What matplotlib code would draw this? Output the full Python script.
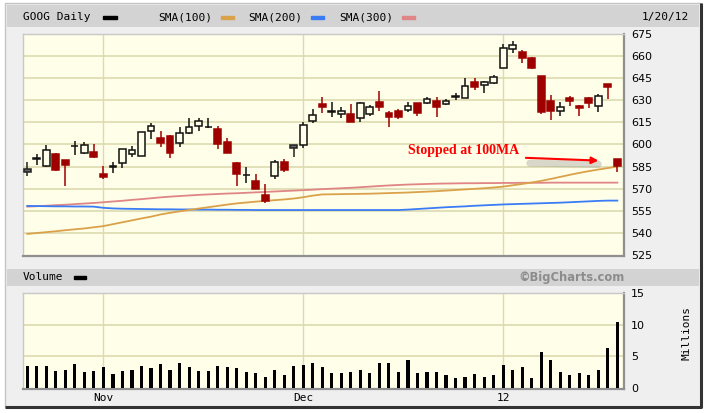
import matplotlib
matplotlib.use("Agg")
import matplotlib.pyplot as plt
from matplotlib.patches import Rectangle
import pandas as pd
import numpy as np

# GOOG daily, 10/20/11 - 1/20/12
holidays = ["2011-11-24", "2011-12-26", "2012-01-02", "2012-01-16"]
dates = pd.bdate_range("2011-10-20", "2012-01-20").drop(pd.to_datetime(holidays))

opens = [583.2, 590.3, 585.6, 593.4, 589.5, 599.0, 594.0, 594.7, 580.0, 584.8,
         587.2, 593.4, 592.5, 609.2, 604.2, 605.8, 600.8, 607.6, 612.6, 611.6,
         610.3, 601.9, 587.7, 579.2, 575.2, 565.7, 578.8, 587.9, 599.5, 599.8,
         616.2, 627.6, 622.2, 620.7, 620.5, 617.8, 620.7, 629.0, 621.6, 622.7,
         623.4, 628.0, 628.0, 629.5, 627.5, 632.4, 631.8, 642.6, 640.4, 641.5,
         652.1, 664.6, 662.6, 658.9, 646.7, 629.5, 622.7, 631.4, 626.3, 631.8,
         626.1, 640.9, 590.2]
highs = [588.3, 593.6, 599.6, 594.4, 589.8, 602.6, 601.5, 600.1, 585.6, 588.0,
         596.9, 599.0, 608.3, 614.4, 609.2, 606.5, 611.7, 618.2, 618.2, 617.8,
         612.6, 604.6, 588.0, 584.5, 579.8, 573.2, 589.5, 590.2, 599.5, 615.5,
         623.9, 632.5, 628.6, 625.4, 627.3, 628.7, 627.0, 636.5, 623.0, 624.0,
         628.6, 628.0, 632.2, 632.0, 630.7, 634.8, 645.0, 645.0, 643.3, 647.0,
         668.0, 670.5, 664.1, 659.2, 646.7, 633.6, 629.0, 633.0, 627.0, 632.0,
         634.0, 640.9, 590.2]
lows = [578.6, 586.0, 585.0, 582.0, 572.0, 592.8, 593.5, 591.0, 576.4, 580.5,
        583.8, 591.7, 592.0, 603.5, 598.5, 591.0, 598.1, 607.0, 609.4, 611.0,
        596.7, 594.0, 571.5, 574.1, 569.8, 560.3, 576.4, 581.5, 591.3, 597.8,
        614.8, 621.2, 618.9, 617.8, 615.0, 615.5, 619.3, 623.0, 612.1, 617.0,
        622.3, 619.5, 627.5, 618.9, 627.0, 630.2, 631.5, 637.0, 634.8, 641.0,
        651.7, 661.9, 655.1, 651.0, 621.0, 616.6, 619.5, 626.1, 619.5, 625.0,
        621.9, 630.9, 581.1]
closes = [581.5, 590.6, 596.1, 582.7, 586.1, 599.3, 599.9, 591.7, 577.7, 585.1,
          596.9, 596.1, 608.3, 612.8, 600.8, 594.5, 608.0, 612.1, 616.2, 611.8,
          600.4, 594.0, 580.2, 579.4, 569.8, 561.9, 588.3, 582.7, 597.4, 613.2,
          619.8, 625.3, 622.4, 623.0, 615.5, 628.0, 625.7, 625.3, 618.9, 618.9,
          626.1, 621.2, 630.7, 625.3, 629.5, 632.6, 640.0, 638.8, 642.6, 646.0,
          665.3, 667.5, 658.5, 651.7, 621.9, 622.7, 625.7, 629.5, 624.6, 628.4,
          632.9, 639.2, 585.4]
# filled candles that closed above the prior close (drawn gray, not red)
filled_up_days = [0, 28]

volume = [3.4, 3.4, 3.4, 2.7, 2.9, 3.8, 2.6, 2.7, 3.3, 2.2,
          2.7, 2.9, 3.4, 3.1, 3.8, 2.9, 4.0, 3.3, 2.7, 2.7,
          3.4, 3.3, 3.1, 2.6, 2.3, 1.8, 2.9, 2.0, 3.5, 3.7,
          4.0, 3.3, 2.3, 2.3, 2.6, 2.9, 2.3, 4.0, 4.0, 2.6,
          4.4, 2.3, 2.6, 2.6, 2.0, 1.6, 1.8, 2.2, 1.8, 2.0,
          3.6, 2.9, 3.3, 1.6, 5.7, 4.4, 2.6, 2.0, 2.3, 2.0,
          2.9, 6.3, 10.4]

sma100 = [539.3, 539.9, 540.5, 541.1, 541.8, 542.4, 543.0, 543.8, 544.6, 545.9,
          547.2, 548.5, 549.8, 551.0, 552.5, 553.6, 554.6, 555.6, 556.5, 557.4,
          558.3, 559.2, 560.0, 560.6, 561.2, 561.7, 562.2, 562.7, 563.3, 564.2,
          565.3, 566.1, 566.2, 566.3, 566.4, 566.5, 566.6, 566.8, 567.0, 567.2,
          567.4, 567.7, 568.0, 568.3, 568.7, 569.1, 569.5, 569.9, 570.3, 570.8,
          571.4, 572.3, 573.2, 574.2, 575.3, 576.6, 578.0, 579.4, 580.7, 581.9,
          583.0, 584.0, 585.0]
sma200 = [558.3, 558.2, 558.1, 558.0, 558.0, 557.9, 557.9, 557.8, 557.0, 556.6,
          556.4, 556.3, 556.2, 556.1, 556.0, 556.0, 555.9, 555.9, 555.8, 555.8,
          555.7, 555.7, 555.6, 555.6, 555.5, 555.5, 555.5, 555.5, 555.5, 555.5,
          555.5, 555.5, 555.5, 555.5, 555.5, 555.5, 555.5, 555.5, 555.5, 555.5,
          555.8, 556.2, 556.6, 557.0, 557.4, 557.7, 558.0, 558.4, 558.7, 559.0,
          559.3, 559.5, 559.7, 559.9, 560.1, 560.3, 560.5, 560.8, 561.1, 561.4,
          561.7, 561.9, 561.9]
sma300 = [557.8, 558.1, 558.4, 558.8, 559.1, 559.5, 559.9, 560.3, 560.8, 561.3,
          561.8, 562.4, 562.9, 563.5, 564.1, 564.6, 565.0, 565.4, 565.8, 566.1,
          566.4, 566.7, 566.9, 567.2, 567.5, 567.8, 568.1, 568.4, 568.7, 569.0,
          569.3, 569.7, 570.0, 570.3, 570.6, 571.0, 571.4, 571.8, 572.2, 572.5,
          572.8, 573.0, 573.2, 573.4, 573.5, 573.6, 573.7, 573.7, 573.8, 573.8,
          573.9, 573.9, 574.0, 574.0, 574.0, 574.1, 574.1, 574.1, 574.1, 574.1,
          574.1, 574.1, 574.1]

price_ticks = [675, 660, 645, 630, 615, 600, 585, 570, 555, 540, 525]
volume_ticks = [15, 10, 5, 0]

BG = "#fffee8"
GRID = "#dcdbb0"
RED = "#9e0000"
MONO = "DejaVu Sans Mono"

fig = plt.figure(figsize=(7.07, 4.13), dpi=100)
fig.patch.set_facecolor("white")

# frame drawn in pixel coordinates
bg = fig.add_axes([0, 0, 1, 1])
bg.set_xlim(0, 707)
bg.set_ylim(413, 0)
bg.axis("off")
bg.add_patch(Rectangle((5, 3), 696, 404, facecolor="#efefef", edgecolor="#c4c4c4", lw=1))
bg.plot([701, 701, 5], [3, 407, 407], color="#333333", lw=2.2, solid_capstyle="butt")
bg.add_patch(Rectangle((7, 5), 692, 22, facecolor="#d3d3d3", edgecolor="none"))
bg.add_patch(Rectangle((7, 269), 692, 17, facecolor="#d3d3d3", edgecolor="none"))

bg.text(23, 17, "GOOG Daily", family=MONO, fontsize=8, va="center")
bg.add_patch(Rectangle((103, 15.5), 14, 3.5, color="black"))
legend_items = [("SMA(100)", 158, "#d9a24a"), ("SMA(200)", 248, "#3a7cf5"), ("SMA(300)", 339, "#e08585")]
for label, x0, col in legend_items:
    bg.text(x0, 17, label, family=MONO, fontsize=8, va="center")
    bg.add_patch(Rectangle((x0 + 63, 15.5), 13, 3.5, color=col))
bg.text(689, 17, dates[-1].strftime("%-m/%d/%y"), family=MONO, fontsize=8, va="center", ha="right")
bg.text(23, 277, "Volume", family=MONO, fontsize=8, va="center")
bg.add_patch(Rectangle((74, 275.5), 12, 3.5, color="black"))
bg.text(625, 277, "\u00a9BigCharts.com", fontsize=8.3, fontweight="bold", color="#8c8c8c",
        va="center", ha="right")
bg.text(687, 333, "Millions", family=MONO, fontsize=8, rotation=90, va="center", ha="center")

x = np.arange(len(dates))
o = np.array(opens)
c = np.array(closes)

ax = fig.add_axes([23 / 707, 1 - 256 / 413, 601 / 707, 222 / 413])
vax = fig.add_axes([23 / 707, 1 - 389 / 413, 601 / 707, 96 / 413])

month_starts = [i for i in range(1, len(dates)) if dates[i].month != dates[i - 1].month]
month_labels = [dates[i].strftime("%b") if dates[i].month != 1 else dates[i].strftime("%y")
                for i in month_starts]

for a in (ax, vax):
    a.set_facecolor(BG)
    a.set_xlim(-0.45, 62.7)
    for s in ("left", "top"):
        a.spines[s].set_color("#c8c8c8")
        a.spines[s].set_linewidth(1)
    for s in ("right", "bottom"):
        a.spines[s].set_color("#8f8f8f")
        a.spines[s].set_linewidth(1.6)
    a.yaxis.tick_right()
    a.tick_params(length=0, labelsize=8, pad=5)
    a.set_xticks(month_starts)
    for m in month_starts:
        a.axvline(m, color=GRID, lw=1, zorder=0)

# price panel
ax.set_ylim(524.3, 675.0)
ax.set_yticks(price_ticks)
for t in price_ticks[1:-1]:
    ax.axhline(t, color=GRID, lw=1.2, zorder=0)
ax.set_xticklabels([])

ax.plot(x, sma300, color="#e08585", lw=1.3, zorder=1)
ax.plot(x, sma200, color="#3a7cf5", lw=1.3, zorder=1)
ax.plot(x, sma100, color="#d9a24a", lw=1.3, zorder=1)

filled = c < o
colors = []
faces = []
for i in range(len(x)):
    if filled[i]:
        col = "#666666" if i in filled_up_days else RED
        colors.append("#222222" if i in filled_up_days else RED)
        faces.append(col)
    else:
        colors.append("#111111")
        faces.append(BG)

ax.vlines(x, lows, highs, colors=colors, lw=1.1, zorder=2)
ax.bar(x, np.abs(c - o), bottom=np.minimum(o, c), width=0.72,
       color=faces, edgecolor=colors, linewidth=1.1, zorder=3)

ax.text(40.0, 595.6, "Stopped at 100MA", family="Liberation Serif", fontweight="bold",
        fontsize=10, color="#ff0000", va="center", ha="left")
ax.plot([52.8, 60.0], [587.3, 586.6], color="#909090", lw=5, alpha=0.35,
        solid_capstyle="round", zorder=4)
ax.annotate("", xy=(60.3, 589.0), xytext=(52.1, 591.0),
            arrowprops=dict(arrowstyle="-|>", color="#ff0000", lw=1.5, mutation_scale=10),
            zorder=5)

# volume panel
vax.set_ylim(-0.16, 15)
vax.set_yticks(volume_ticks)
for t in (5, 10):
    vax.axhline(t, color=GRID, lw=1.2, zorder=0)
vax.bar(x, volume, width=0.33, color="black", zorder=3)
vax.set_xticklabels(month_labels, family=MONO, fontsize=8)
vax.tick_params(axis="x", pad=3)

fig.savefig("out.png", dpi=100, facecolor="white")
